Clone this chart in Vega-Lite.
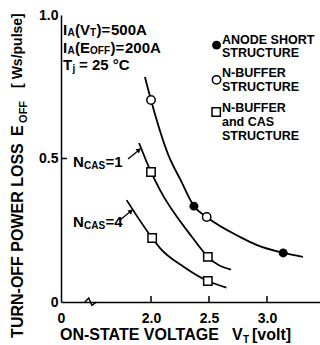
{
  "$schema": "https://vega.github.io/schema/vega-lite/v6.json",
  "width": 259,
  "height": 287,
  "autosize": {"type": "none"},
  "padding": {"left": 61, "top": 15, "right": 0, "bottom": 43},
  "background": "white",
  "config": {
    "view": {"stroke": null},
    "font": "Liberation Sans",
    "text": {"font": "Liberation Sans", "fontWeight": "bold", "color": "black"}
  },
  "datasets": {
    "curves": [
      {"c": "U", "x": 1.948, "y": 0.784},
      {"c": "U", "x": 2.0, "y": 0.704},
      {"c": "U", "x": 2.15, "y": 0.512},
      {"c": "U", "x": 2.259, "y": 0.422},
      {"c": "U", "x": 2.37, "y": 0.334},
      {"c": "U", "x": 2.48, "y": 0.296},
      {"c": "U", "x": 2.77, "y": 0.226},
      {"c": "U", "x": 2.91, "y": 0.199},
      {"c": "U", "x": 3.14, "y": 0.171},
      {"c": "U", "x": 3.31, "y": 0.157},
      {"c": "N1", "x": 1.897, "y": 0.554},
      {"c": "N1", "x": 2.0, "y": 0.453},
      {"c": "N1", "x": 2.078, "y": 0.39},
      {"c": "N1", "x": 2.36, "y": 0.223},
      {"c": "N1", "x": 2.44, "y": 0.181},
      {"c": "N1", "x": 2.49, "y": 0.157},
      {"c": "N1", "x": 2.69, "y": 0.113},
      {"c": "N4", "x": 1.79, "y": 0.355},
      {"c": "N4", "x": 2.01, "y": 0.223},
      {"c": "N4", "x": 2.078, "y": 0.188},
      {"c": "N4", "x": 2.284, "y": 0.122},
      {"c": "N4", "x": 2.49, "y": 0.073},
      {"c": "N4", "x": 2.65, "y": 0.05}
    ],
    "marks": [
      {"m": "filled", "x": 2.37, "y": 0.334},
      {"m": "filled", "x": 3.14, "y": 0.171},
      {"m": "filled", "x": 2.565, "y": 0.895},
      {"m": "open", "x": 2.0, "y": 0.704},
      {"m": "open", "x": 2.48, "y": 0.296},
      {"m": "open", "x": 2.565, "y": 0.774},
      {"m": "square", "x": 2.0, "y": 0.453},
      {"m": "square", "x": 2.49, "y": 0.157},
      {"m": "square", "x": 2.01, "y": 0.223},
      {"m": "square", "x": 2.49, "y": 0.073},
      {"m": "square", "x": 2.562, "y": 0.662}
    ],
    "arrows": [
      {"x": 1.802, "y": 0.498, "x2": 1.897, "y2": 0.53},
      {"x": 1.733, "y": 0.286, "x2": 1.828, "y2": 0.317}
    ],
    "ticks": [
      {"x": 2.0, "y": 0, "x2": 2.0, "y2": 0.021},
      {"x": 2.5, "y": 0, "x2": 2.5, "y2": 0.021},
      {"x": 3.0, "y": 0, "x2": 3.0, "y2": 0.021},
      {"x": 0, "y": 0.5, "x2": 0.28, "y2": 0.5}
    ],
    "zig": [
      {"x": 1.12, "y": 0},
      {"x": 1.30, "y": 0.014},
      {"x": 1.45, "y": -0.012},
      {"x": 1.53, "y": 0}
    ],
    "txt": [
      {"k": "a", "x": 0.094, "y": 0.948, "t": "I"},
      {"k": "a", "x": 0.656, "y": 0.948, "t": "(V"},
      {"k": "a", "x": 1.53, "y": 0.948, "t": ")="},
      {"k": "a", "x": 1.655, "y": 0.948, "t": "500A"},
      {"k": "a", "x": 0.094, "y": 0.885, "t": "I"},
      {"k": "a", "x": 0.656, "y": 0.885, "t": "(E"},
      {"k": "a", "x": 1.651, "y": 0.885, "t": ")="},
      {"k": "a", "x": 1.776, "y": 0.885, "t": "200A"},
      {"k": "a", "x": 0.094, "y": 0.826, "t": "T"},
      {"k": "a", "x": 0.844, "y": 0.826, "t": "= 25 °C"},
      {"k": "a", "x": 0.5625, "y": 0.488, "t": "N"},
      {"k": "a", "x": 1.608, "y": 0.488, "t": "=1"},
      {"k": "a", "x": 0.5625, "y": 0.279, "t": "N"},
      {"k": "a", "x": 1.608, "y": 0.279, "t": "=4"},
      {"k": "s", "x": 0.305, "y": 0.936, "t": "A"},
      {"k": "s", "x": 1.359, "y": 0.936, "t": "T"},
      {"k": "s", "x": 0.305, "y": 0.875, "t": "A"},
      {"k": "s", "x": 1.359, "y": 0.875, "t": "OFF"},
      {"k": "s", "x": 0.539, "y": 0.813, "t": "j"},
      {"k": "s", "x": 1.078, "y": 0.474, "t": "CAS"},
      {"k": "s", "x": 1.078, "y": 0.265, "t": "CAS"},
      {"k": "l", "x": 2.612, "y": 0.913, "t": "ANODE SHORT"},
      {"k": "l", "x": 2.612, "y": 0.868, "t": "STRUCTURE"},
      {"k": "l", "x": 2.612, "y": 0.798, "t": "N-BUFFER"},
      {"k": "l", "x": 2.612, "y": 0.749, "t": "STRUCTURE"},
      {"k": "l", "x": 2.612, "y": 0.676, "t": "N-BUFFER"},
      {"k": "l", "x": 2.612, "y": 0.627, "t": "and CAS"},
      {"k": "l", "x": 2.612, "y": 0.578, "t": "STRUCTURE"},
      {"k": "xt", "x": -0.047, "y": -0.115, "t": "ON-STATE VOLTAGE"},
      {"k": "xt", "x": 2.698, "y": -0.115, "t": "V"},
      {"k": "xt", "x": 2.871, "y": -0.115, "t": "[volt]"},
      {"k": "xs", "x": 2.793, "y": -0.132, "t": "T"},
      {"k": "yt", "x": -2.016, "y": -0.125, "t": "TURN-OFF POWER LOSS"},
      {"k": "yt", "x": -2.016, "y": 0.578, "t": "E"},
      {"k": "yt2", "x": -2.016, "y": 0.746, "t": "[ Ws/pulse]"},
      {"k": "ys", "x": -1.734, "y": 0.624, "t": "OFF"}
    ]
  },
  "encoding": {
    "x": {
      "field": "x", "type": "quantitative",
      "scale": {"domain": [0, 1.5, 3.457], "range": [0, 32, 259], "nice": false, "zero": false},
      "axis": {
        "values": [0, 2, 2.5, 3],
        "labelExpr": "datum.value == 0 ? '0' : format(datum.value, '.1f')",
        "title": null, "grid": false, "ticks": false,
        "domainColor": "black", "domainWidth": 1.5,
        "labelPadding": 9, "labelFont": "Liberation Sans", "labelFontWeight": "bold",
        "labelFontSize": 14, "labelColor": "black", "labelFlush": false, "labelOverlap": false, "labelBound": false
      }
    },
    "y": {
      "field": "y", "type": "quantitative",
      "scale": {"domain": [0, 1], "nice": false, "zero": false},
      "axis": {
        "values": [0, 0.5, 1],
        "labelExpr": "datum.value == 0 ? '0' : format(datum.value, '.1f')",
        "title": null, "grid": false, "ticks": false,
        "domainColor": "black", "domainWidth": 1.5,
        "labelPadding": 3, "labelFont": "Liberation Sans", "labelFontWeight": "bold",
        "labelFontSize": 14, "labelColor": "black", "labelFlush": false, "labelOverlap": false, "labelBound": false
      }
    }
  },
  "layer": [
    {
      "mark": {"type": "rule", "color": "white", "strokeWidth": 4},
      "encoding": {"x": {"datum": 1.14}, "x2": {"datum": 1.49}, "y": {"datum": 0}}
    },
    {
      "data": {"name": "zig"},
      "mark": {"type": "line", "color": "black", "strokeWidth": 1.5},
      "encoding": {}
    },
    {
      "mark": {"type": "rule", "color": "black", "strokeWidth": 1.5},
      "encoding": {"x": {"datum": 0}, "x2": {"datum": 3.457}, "y": {"datum": 1}}
    },
    {
      "data": {"name": "ticks"},
      "mark": {"type": "rule", "color": "black", "strokeWidth": 1.5},
      "encoding": {"x2": {"field": "x2"}, "y2": {"field": "y2"}}
    },
    {
      "data": {"name": "curves"},
      "mark": {"type": "line", "color": "black", "strokeWidth": 1.8, "interpolate": "monotone"},
      "encoding": {"detail": {"field": "c"}}
    },
    {
      "data": {"name": "arrows"},
      "mark": {"type": "rule", "color": "black", "strokeWidth": 1.3},
      "encoding": {"x2": {"field": "x2"}, "y2": {"field": "y2"}}
    },
    {
      "data": {"name": "arrows"},
      "mark": {"type": "point", "shape": "triangle-up", "angle": 50, "filled": true, "color": "black", "size": 30, "opacity": 1},
      "encoding": {"x": {"field": "x2", "type": "quantitative"}, "y": {"field": "y2", "type": "quantitative"}}
    },
    {
      "data": {"name": "marks"},
      "transform": [{"filter": "datum.m == 'filled'"}],
      "mark": {"type": "point", "shape": "circle", "filled": true, "color": "black", "size": 80, "opacity": 1}
    },
    {
      "data": {"name": "marks"},
      "transform": [{"filter": "datum.m == 'open'"}],
      "mark": {"type": "point", "shape": "circle", "fill": "white", "stroke": "black", "strokeWidth": 1.5, "size": 70, "opacity": 1}
    },
    {
      "data": {"name": "marks"},
      "transform": [{"filter": "datum.m == 'square'"}],
      "mark": {"type": "point", "shape": "square", "fill": "white", "stroke": "black", "strokeWidth": 1.5, "size": 70, "opacity": 1}
    },
    {
      "data": {"name": "txt"},
      "transform": [{"filter": "datum.k == 'a'"}],
      "mark": {"type": "text", "align": "left", "baseline": "middle", "fontSize": 15},
      "encoding": {"text": {"field": "t"}}
    },
    {
      "data": {"name": "txt"},
      "transform": [{"filter": "datum.k == 's'"}],
      "mark": {"type": "text", "align": "left", "baseline": "middle", "fontSize": 10},
      "encoding": {"text": {"field": "t"}}
    },
    {
      "data": {"name": "txt"},
      "transform": [{"filter": "datum.k == 'l'"}],
      "mark": {"type": "text", "align": "left", "baseline": "middle", "fontSize": 12.5},
      "encoding": {"text": {"field": "t"}}
    },
    {
      "data": {"name": "txt"},
      "transform": [{"filter": "datum.k == 'xt'"}],
      "mark": {"type": "text", "align": "left", "baseline": "middle", "fontSize": 16},
      "encoding": {"text": {"field": "t"}}
    },
    {
      "data": {"name": "txt"},
      "transform": [{"filter": "datum.k == 'xs'"}],
      "mark": {"type": "text", "align": "left", "baseline": "middle", "fontSize": 10},
      "encoding": {"text": {"field": "t"}}
    },
    {
      "data": {"name": "txt"},
      "transform": [{"filter": "datum.k == 'yt'"}],
      "mark": {"type": "text", "align": "left", "baseline": "middle", "fontSize": 16, "angle": 270},
      "encoding": {"text": {"field": "t"}}
    },
    {
      "data": {"name": "txt"},
      "transform": [{"filter": "datum.k == 'yt2'"}],
      "mark": {"type": "text", "align": "left", "baseline": "middle", "fontSize": 14, "angle": 270},
      "encoding": {"text": {"field": "t"}}
    },
    {
      "data": {"name": "txt"},
      "transform": [{"filter": "datum.k == 'ys'"}],
      "mark": {"type": "text", "align": "left", "baseline": "middle", "fontSize": 11, "angle": 270},
      "encoding": {"text": {"field": "t"}}
    }
  ]
}
